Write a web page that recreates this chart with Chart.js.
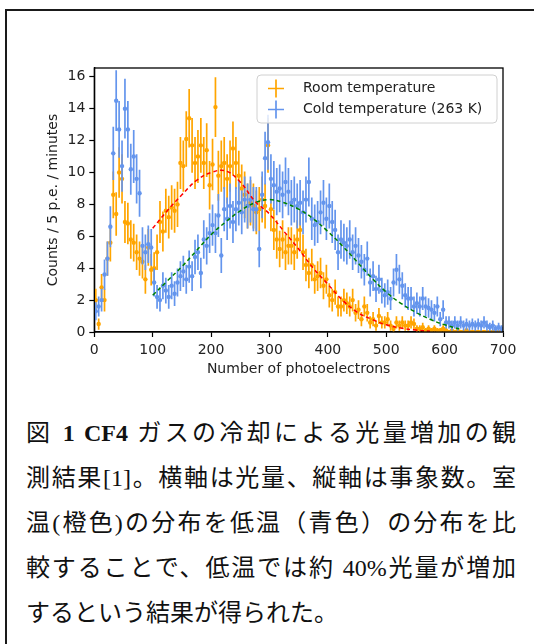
<!DOCTYPE html>
<html>
<head>
<meta charset="utf-8">
<script src="https://cdn.jsdelivr.net/npm/chart.js@4.4.0/dist/chart.umd.min.js"></script>
<style>
  body { margin: 0; width: 534px; height: 644px; overflow: hidden; background: #fff; position: relative; }
  #frame { position: absolute; left: 5px; top: 9px; width: 640px; height: 700px;
           border-left: 2px solid #1a1a1a; border-top: 2px solid #1a1a1a; }
  #chartBox { position: absolute; left: 0; top: 0; }
  #caption { position: absolute; left: 26px; top: 411px; width: 490px;
             font-family: "Liberation Serif", "Noto Sans CJK JP", serif;
             font-size: 24px; line-height: 45px; color: #111; }
  #caption .j { text-align: justify; text-align-last: justify; }
  #caption b { font-weight: bold; }
</style>
</head>
<body>
<div id="frame"></div>
<div id="chartBox"><canvas id="chart" width="534" height="400"></canvas></div>
<div id="caption">
  <div class="j">図 <b>1 CF4</b> ガスの冷却による光量増加の観</div>
  <div class="j">測結果[1]。横軸は光量、縦軸は事象数。室</div>
  <div class="j">温(橙色)の分布を低温（青色）の分布を比</div>
  <div class="j">較することで、低温では約 40%光量が増加</div>
  <div>するという結果が得られた。</div>
</div>
<script>
// bin centres (5 p.e. bins)
const binCenters = [
  2.5, 7.5, 12.5, 17.5, 22.5, 27.5, 32.5, 37.5, 42.5, 47.5,
  52.5, 57.5, 62.5, 67.5, 72.5, 77.5, 82.5, 87.5, 92.5, 97.5,
  102.5, 107.5, 112.5, 117.5, 122.5, 127.5, 132.5, 137.5, 142.5, 147.5,
  152.5, 157.5, 162.5, 167.5, 172.5, 177.5, 182.5, 187.5, 192.5, 197.5,
  202.5, 207.5, 212.5, 217.5, 222.5, 227.5, 232.5, 237.5, 242.5, 247.5,
  252.5, 257.5, 262.5, 267.5, 272.5, 277.5, 282.5, 287.5, 292.5, 297.5,
  302.5, 307.5, 312.5, 317.5, 322.5, 327.5, 332.5, 337.5, 342.5, 347.5,
  352.5, 357.5, 362.5, 367.5, 372.5, 377.5, 382.5, 387.5, 392.5, 397.5,
  402.5, 407.5, 412.5, 417.5, 422.5, 427.5, 432.5, 437.5, 442.5, 447.5,
  452.5, 457.5, 462.5, 467.5, 472.5, 477.5, 482.5, 487.5, 492.5, 497.5,
  502.5, 507.5, 512.5, 517.5, 522.5, 527.5, 532.5, 537.5, 542.5, 547.5,
  552.5, 557.5, 562.5, 567.5, 572.5, 577.5, 582.5, 587.5, 592.5, 597.5,
  602.5, 607.5, 612.5, 617.5, 622.5, 627.5, 632.5, 637.5, 642.5, 647.5,
  652.5, 657.5, 662.5, 667.5, 672.5, 677.5, 682.5, 687.5, 692.5, 697.5
];

const roomCounts = [
  2.0, 0.5, 2.8, 2.0, 4.6, 5.6, 8.6, 7.4, 10.0, 9.6,
  6.9, 6.8, 5.8, 5.6, 5.0, 4.6, 4.4, 3.3, 5.3, 3.9,
  4.0, 5.0, 6.9, 6.3, 7.6, 7.2, 7.8, 7.6, 8.0, 10.6,
  10.4, 12.1, 13.4, 11.7, 10.6, 11.0, 11.7, 10.6, 11.4, 9.2,
  10.5, 14.1, 9.8, 10.4, 10.6, 9.6, 10.4, 11.5, 10.6, 9.8,
  9.0, 8.6, 7.9, 8.1, 7.9, 7.5, 7.7, 8.3, 7.9, 11.7,
  7.7, 6.4, 5.8, 5.2, 5.8, 5.0, 5.4, 5.4, 5.0, 5.8,
  6.4, 5.0, 4.2, 3.7, 4.2, 3.3, 3.5, 3.7, 2.9, 3.3,
  2.3, 2.0, 2.5, 1.6, 1.6, 2.0, 1.8, 1.6, 2.0, 1.2,
  1.4, 0.8, 1.6, 1.2, 0.6, 0.8, 0.4, 1.0, 0.6, 0.6,
  0.8, 0.4, 0.2, 0.6, 0.4, 0.6, 0.4, 0.4, 0.6, 0.5,
  0.2, 0.2, 0.3, 0.1, 0.2, 0.1, 0.2, 0.1, 0.1, 0.2,
  0.1, 0.0, 0.1, 0.0, 0.1, 0.0, 0.0, 0.1, 0.0, 0.0,
  0.0, 0.0, 0.0, 0.0, 0.0, 0.0, 0.0, 0.0, 0.0, 0.0
];

const coldCounts = [
  1.3, 1.6, 2.0, 3.6, 4.6, 6.6, 11.2, 14.5, 12.7, 10.4,
  14.0, 12.7, 10.2, 11.0, 9.6, 8.7, 5.4, 5.0, 5.5, 5.3,
  3.1, 2.2, 2.0, 2.9, 2.6, 2.2, 2.9, 2.4, 3.1, 3.5,
  3.8, 3.3, 4.1, 3.5, 4.7, 5.0, 3.7, 5.8, 5.4, 6.2,
  6.7, 6.2, 7.3, 4.8, 7.7, 7.1, 7.9, 6.9, 7.7, 8.1,
  7.5, 8.3, 7.9, 8.3, 7.7, 7.7, 5.2, 8.6, 10.9, 11.9,
  9.6, 9.2, 8.8, 9.0, 8.6, 9.4, 8.8, 8.1, 8.3, 7.9,
  8.1, 7.5, 8.3, 9.4, 7.1, 6.7, 6.9, 7.5, 8.1, 7.1,
  7.9, 6.9, 6.4, 5.0, 5.8, 5.6, 5.4, 5.8, 5.0, 5.4,
  4.8, 4.4, 3.9, 4.6, 3.1, 3.5, 2.7, 3.3, 2.6, 2.3,
  2.5, 2.1, 3.1, 3.9, 3.3, 2.9, 2.3, 2.1, 2.1, 1.6,
  1.8, 1.6, 2.1, 1.6, 1.5, 1.4, 1.2, 1.6, 0.8, 1.4,
  0.6, 0.6, 0.4, 0.6, 0.4, 0.6, 0.4, 0.5, 0.4, 0.5,
  0.4, 0.5, 0.4, 0.6, 0.4, 0.3, 0.4, 0.2, 0.3, 0.2
];

// fitted curves
const roomFitX = [100, 125, 150, 175, 200, 225, 250, 275, 300, 325, 350, 375, 400, 425, 450, 475, 500, 525, 550, 575];
const roomFitY = [6.5, 7.6, 8.6, 9.5, 10.0, 10.1, 9.4, 8.2, 7.4, 6.3, 5.2, 4.0, 3.0, 2.0, 1.25, 0.8, 0.45, 0.25, 0.12, 0.05];
const coldFitX = [100, 125, 150, 175, 200, 225, 250, 275, 300, 325, 350, 375, 400, 425, 450, 475, 500, 525, 550, 575, 600, 625];
const coldFitY = [2.3, 3.2, 4.1, 5.1, 6.1, 6.9, 7.6, 8.1, 8.3, 8.1, 7.7, 7.1, 6.3, 5.4, 4.4, 3.4, 2.5, 1.8, 1.25, 0.8, 0.45, 0.2];

const xTicks = [0, 100, 200, 300, 400, 500, 600, 700];
const yTicks = [0, 2, 4, 6, 8, 10, 12, 14, 16];
const legendLabels = ['Room temperature', 'Cold temperature (263 K)'];

const ORANGE = '#ffa500';
const BLUE = '#6495ed';
const BIN_HALF = 2.5;
const MINUTES = 4; // poisson error: sqrt(counts / minutes)

const toPoints = (xs, ys) => xs.map((x, i) => ({ x: x, y: ys[i] }));
const poissonErr = ys => ys.map(v => Math.sqrt(v / MINUTES));

const tickFont = { family: 'DejaVu Sans', size: 14 };

// error bars drawn just before each dataset's markers
const errorBars = {
  id: 'errorBars',
  beforeDatasetDraw(chart, args) {
    const ds = chart.data.datasets[args.index];
    if (!ds.errY) return;
    const { ctx, chartArea, scales: { x, y } } = chart;
    ctx.save();
    ctx.beginPath();
    ctx.rect(chartArea.left, chartArea.top, chartArea.width, chartArea.height);
    ctx.clip();
    ctx.strokeStyle = ds.borderColor;
    ctx.lineWidth = 1.7;
    ctx.beginPath();
    ds.data.forEach((p, i) => {
      const px = x.getPixelForValue(p.x);
      const py = y.getPixelForValue(p.y);
      ctx.moveTo(px, y.getPixelForValue(p.y - ds.errY[i]));
      ctx.lineTo(px, y.getPixelForValue(p.y + ds.errY[i]));
      ctx.moveTo(x.getPixelForValue(p.x - BIN_HALF), py);
      ctx.lineTo(x.getPixelForValue(p.x + BIN_HALF), py);
    });
    ctx.stroke();
    ctx.restore();
  }
};

// frame on all four sides + matplotlib style legend
const frameAndLegend = {
  id: 'frameAndLegend',
  afterDraw(chart) {
    const { ctx, chartArea } = chart;
    ctx.save();
    ctx.strokeStyle = '#000';
    ctx.lineWidth = 1.3;
    ctx.strokeRect(chartArea.left, chartArea.top, chartArea.width, chartArea.height);

    const bx = 257, by = 75, bw = 240, bh = 48;
    ctx.beginPath();
    ctx.roundRect(bx, by, bw, bh, 4);
    ctx.fillStyle = 'rgba(255,255,255,0.8)';
    ctx.fill();
    ctx.strokeStyle = '#d0d0d0';
    ctx.lineWidth = 1;
    ctx.stroke();

    const colors = [ORANGE, BLUE];
    const rows = [88.5, 109.5];
    ctx.font = '14px "DejaVu Sans"';
    ctx.textBaseline = 'middle';
    rows.forEach((cy, i) => {
      ctx.strokeStyle = colors[i];
      ctx.lineWidth = 1.7;
      ctx.beginPath();
      ctx.moveTo(268, cy); ctx.lineTo(284, cy);
      ctx.moveTo(276, cy - 9); ctx.lineTo(276, cy + 9);
      ctx.stroke();
      ctx.fillStyle = '#222';
      ctx.fillText(legendLabels[i], 303, cy);
    });
    ctx.restore();
  }
};

new Chart(document.getElementById('chart'), {
  type: 'scatter',
  data: {
    datasets: [
      {
        type: 'line', label: 'room fit', data: toPoints(roomFitX, roomFitY),
        borderColor: '#ff0000', borderWidth: 1.5, borderDash: [4, 3],
        pointRadius: 0, tension: 0.4, fill: false, order: 0
      },
      {
        type: 'line', label: 'cold fit', data: toPoints(coldFitX, coldFitY),
        borderColor: '#008000', borderWidth: 1.5, borderDash: [4, 3],
        pointRadius: 0, tension: 0.4, fill: false, order: 1
      },
      {
        label: legendLabels[1], data: toPoints(binCenters, coldCounts), errY: poissonErr(coldCounts),
        borderColor: BLUE, backgroundColor: BLUE, pointRadius: 2.2, borderWidth: 0, order: 2
      },
      {
        label: legendLabels[0], data: toPoints(binCenters, roomCounts), errY: poissonErr(roomCounts),
        borderColor: ORANGE, backgroundColor: ORANGE, pointRadius: 2.2, borderWidth: 0, order: 3
      }
    ]
  },
  options: {
    responsive: false,
    animation: false,
    layout: { padding: { left: 44.6, right: 31, top: 68, bottom: 22 } },
    plugins: { legend: { display: false }, tooltip: { enabled: false } },
    scales: {
      x: {
        type: 'linear', min: 0, max: 700,
        afterBuildTicks: s => { s.ticks = xTicks.map(v => ({ value: v })); },
        afterFit: s => { s.height = 46; },
        ticks: { font: tickFont, color: '#222', padding: 5, maxRotation: 0 },
        grid: { drawOnChartArea: false, tickLength: 5, tickColor: '#000', tickWidth: 1.2 },
        border: { color: '#000', width: 1.3 },
        title: { display: true, text: 'Number of photoelectrons', font: tickFont, color: '#222', padding: 0 }
      },
      y: {
        type: 'linear', min: 0, max: 16.55,
        afterBuildTicks: s => { s.ticks = yTicks.map(v => ({ value: v })); },
        afterFit: s => { s.width = 49.7; },
        ticks: { font: tickFont, color: '#222', padding: 4 },
        grid: { drawOnChartArea: false, tickLength: 5, tickColor: '#000', tickWidth: 1.2 },
        border: { color: '#000', width: 1.3 },
        title: { display: true, text: 'Counts / 5 p.e. / minutes', font: tickFont, color: '#222', padding: 0 }
      }
    }
  },
  plugins: [errorBars, frameAndLegend]
});
</script>
</body>
</html>
